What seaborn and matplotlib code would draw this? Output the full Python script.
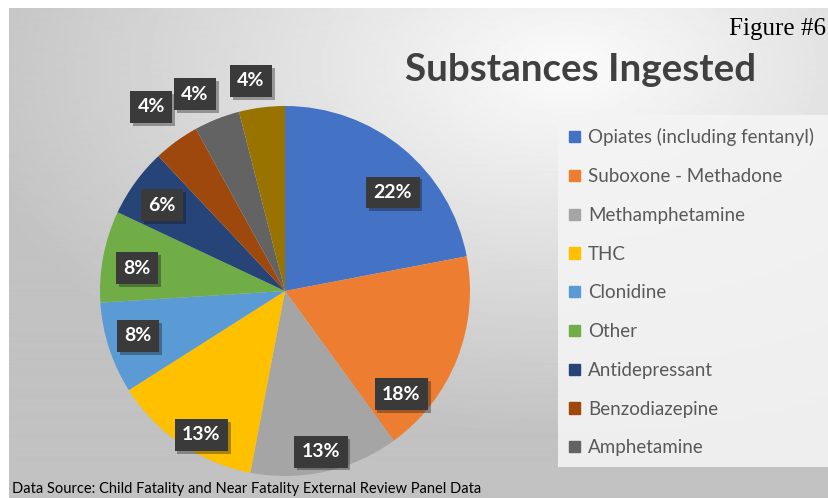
import matplotlib
matplotlib.use("Agg")
import matplotlib.pyplot as plt
import matplotlib.patches as mpatches
import matplotlib.patheffects as pe
import numpy as np
import seaborn as sns

# data
substances = [
    "Opiates (including fentanyl)", "Suboxone - Methadone", "Methamphetamine",
    "THC", "Clonidine", "Other", "Antidepressant", "Benzodiazepine",
    "Amphetamine", "Alcohol",
]
shares = [22, 18, 13, 13, 8, 8, 6, 4, 4, 4]
legend_count = 9  # last entry is cut off in the original legend

colors = ["#4472C4", "#ED7D31", "#A5A5A5", "#FFC000", "#5B9BD5",
          "#70AD47", "#264478", "#9E480E", "#636363", "#997300"]

# label placement (radius as fraction of pie radius, angle nudge in degrees)
label_r = [0.79, 0.84, 0.89, 0.90, 0.83, 0.81, 0.81, 1.23, 1.17, 1.15]
label_nudge = [-8, -20, 0, 4, -1, 2, 1, 0, 3, 2]

sns.set_theme(style="white")
plt.rcParams["font.family"] = ["Lato", "DejaVu Sans"]

W, H = 829, 498
fig = plt.figure(figsize=(W / 100, H / 100), dpi=100)
fig.patch.set_facecolor("white")

# gradient background panel
bg = fig.add_axes([9 / W, 0, 1 - 9 / W, 1 - 8 / H])
yy, xx = np.mgrid[0:490, 0:820]
d = np.sqrt(((xx - 560) / 820) ** 2 + ((yy - 60) / 490) ** 2)
g = np.clip(0.985 - 0.30 * d, 0.76, 0.985)
bg.imshow(g, cmap="gray", vmin=0, vmax=1, aspect="auto", interpolation="bilinear")
bg.set_axis_off()

# legend panel (runs off the right edge like the original)
fig.patches.append(mpatches.Rectangle((558 / W, 1 - 467 / H), 300 / W, 352 / H,
                                      transform=fig.transFigure, fc="#f4f4f4",
                                      ec="none", alpha=0.9, zorder=1))

# pie
cx, cy, R = 285, 291, 185
ax = fig.add_axes([(cx - R) / W, (H - cy - R) / H, 2 * R / W, 2 * R / H])
wedges, _ = ax.pie(shares, colors=colors, startangle=90, counterclock=False,
                   wedgeprops=dict(linewidth=0))
ax.set_xlim(-1, 1)
ax.set_ylim(-1, 1)
ax.set_axis_off()

for w, pct, r, nudge in zip(wedges, shares, label_r, label_nudge):
    ang = np.deg2rad((w.theta1 + w.theta2) / 2 + nudge)
    t = ax.text(r * np.cos(ang), r * np.sin(ang), f"{pct}%", ha="center",
                va="center", color="white", fontsize=14, fontweight="bold",
                bbox=dict(boxstyle="square,pad=0.38", fc="#3a3a3a", ec="none"),
                zorder=5, clip_on=False)
    t.get_bbox_patch().set_path_effects(
        [pe.SimplePatchShadow(offset=(2, -2), alpha=0.35), pe.Normal()])

# legend
handles = [mpatches.Patch(color=c) for c in colors[:legend_count]]
leg = fig.legend(handles, substances[:legend_count],
                 loc="upper left", bbox_to_anchor=(558 / W, 1 - 117 / H),
                 fontsize=13.5, frameon=False, borderpad=0.6,
                 labelspacing=1.16, handlelength=0.55, handleheight=0.55,
                 handletextpad=0.45, borderaxespad=0)
for txt in leg.get_texts():
    txt.set_color("#595959")

# titles and notes
fig.text(581 / W, 1 - 70 / H, "Substances Ingested", ha="center", va="center",
         fontsize=27.7, fontweight="bold", color="#404040")
fig.text(729 / W, 1 - 29 / H, "Figure #6", ha="left", va="center",
         fontsize=18, color="black", family=["Liberation Serif", "DejaVu Serif"])
fig.text(12 / W, 1 - 489 / H,
         "Data Source: Child Fatality and Near Fatality External Review Panel Data",
         ha="left", va="center", fontsize=10.5, color="black")

fig.savefig("out.png", dpi=100)
